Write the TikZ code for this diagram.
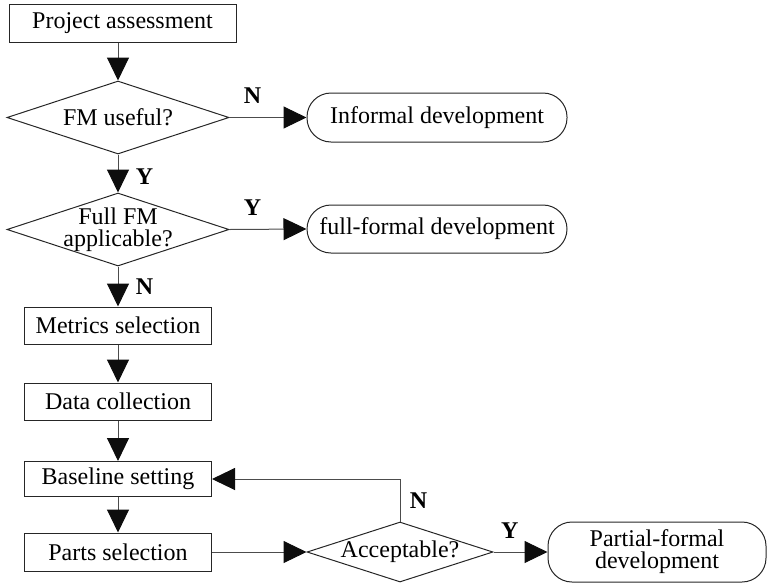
\documentclass[tikz,border=0pt]{standalone}
\usepackage{fontspec}
\setmainfont{Liberation Serif}
\usetikzlibrary{shapes.geometric, arrows.meta}

\begin{document}
\begin{tikzpicture}[x=1pt, y=-1pt, line width=1pt,
    font=\fontsize{24}{22}\selectfont,
    box/.style={draw=black!85, minimum width=187pt, minimum height=37pt, inner sep=0pt},
    decision/.style={draw=black!85, diamond, shape aspect=3, inner sep=-4pt, align=center,
        minimum width=222pt, minimum height=73pt},
    terminal/.style={draw=black!85, rounded corners=24pt, minimum width=260pt, minimum height=49pt,
        inner sep=0pt, align=center},
    flow/.style={-{Triangle[length=23pt, width=22pt, color=black!95]}, black!70},
    lab/.style={text=black, font=\fontsize{24}{22}\selectfont\bfseries}]
    \useasboundingbox (0, 0) rectangle (767, 584);

    \node[box, minimum width=227pt, minimum height=38pt] (pa) at (122.5, 23) {Project assessment};
    \node[decision] (fm) at (118, 117.5) {FM useful?};
    \node[terminal] (inf) at (437, 117.5) {Informal development};
    \node[decision] (full) at (118, 229.5) {Full FM\\applicable?};
    \node[terminal, minimum height=48pt] (ff) at (437, 229) {full-formal development};

    \node[box] (ms) at (118, 325.5) {Metrics selection};
    \node[box] (dc) at (118, 401.5) {Data collection};
    \node[box, minimum height=35pt] (bs) at (118, 479) {Baseline setting};
    \node[box, minimum height=38pt] (ps) at (118, 552) {Parts selection};
    \node[decision, minimum width=186pt, minimum height=60pt] (acc) at (400, 552) {Acceptable?};
    \node[terminal, minimum width=218pt, minimum height=60pt] (pf) at (657, 552) {Partial-formal\\development};

    \draw[flow] (pa.south -| fm.north) -- (fm.north);
    \draw[flow] (fm.east) -- (inf.west) node[lab, pos=0.3, above=10pt] {N};
    \draw[flow] (fm.south) -- (full.north) node[lab, midway, right=14pt, yshift=-3pt] {Y};
    \draw[flow] (full.east) -- (ff.west) node[lab, pos=0.3, above=10pt] {Y};
    \draw[flow] (full.south) -- (ms.north) node[lab, midway, right=14pt] {N};
    \draw[flow] (ms) -- (dc);
    \draw[flow] (dc) -- (bs);
    \draw[flow] (bs) -- (ps);
    \draw[flow] (ps) -- (acc);
    \draw[flow] (acc.north) |- (bs.east) node[lab, pos=0.25, right=6pt] {N};
    \draw[flow] (acc.east) -- (pf.west) node[lab, pos=0.3, above=10pt] {Y};
\end{tikzpicture}
\end{document}
